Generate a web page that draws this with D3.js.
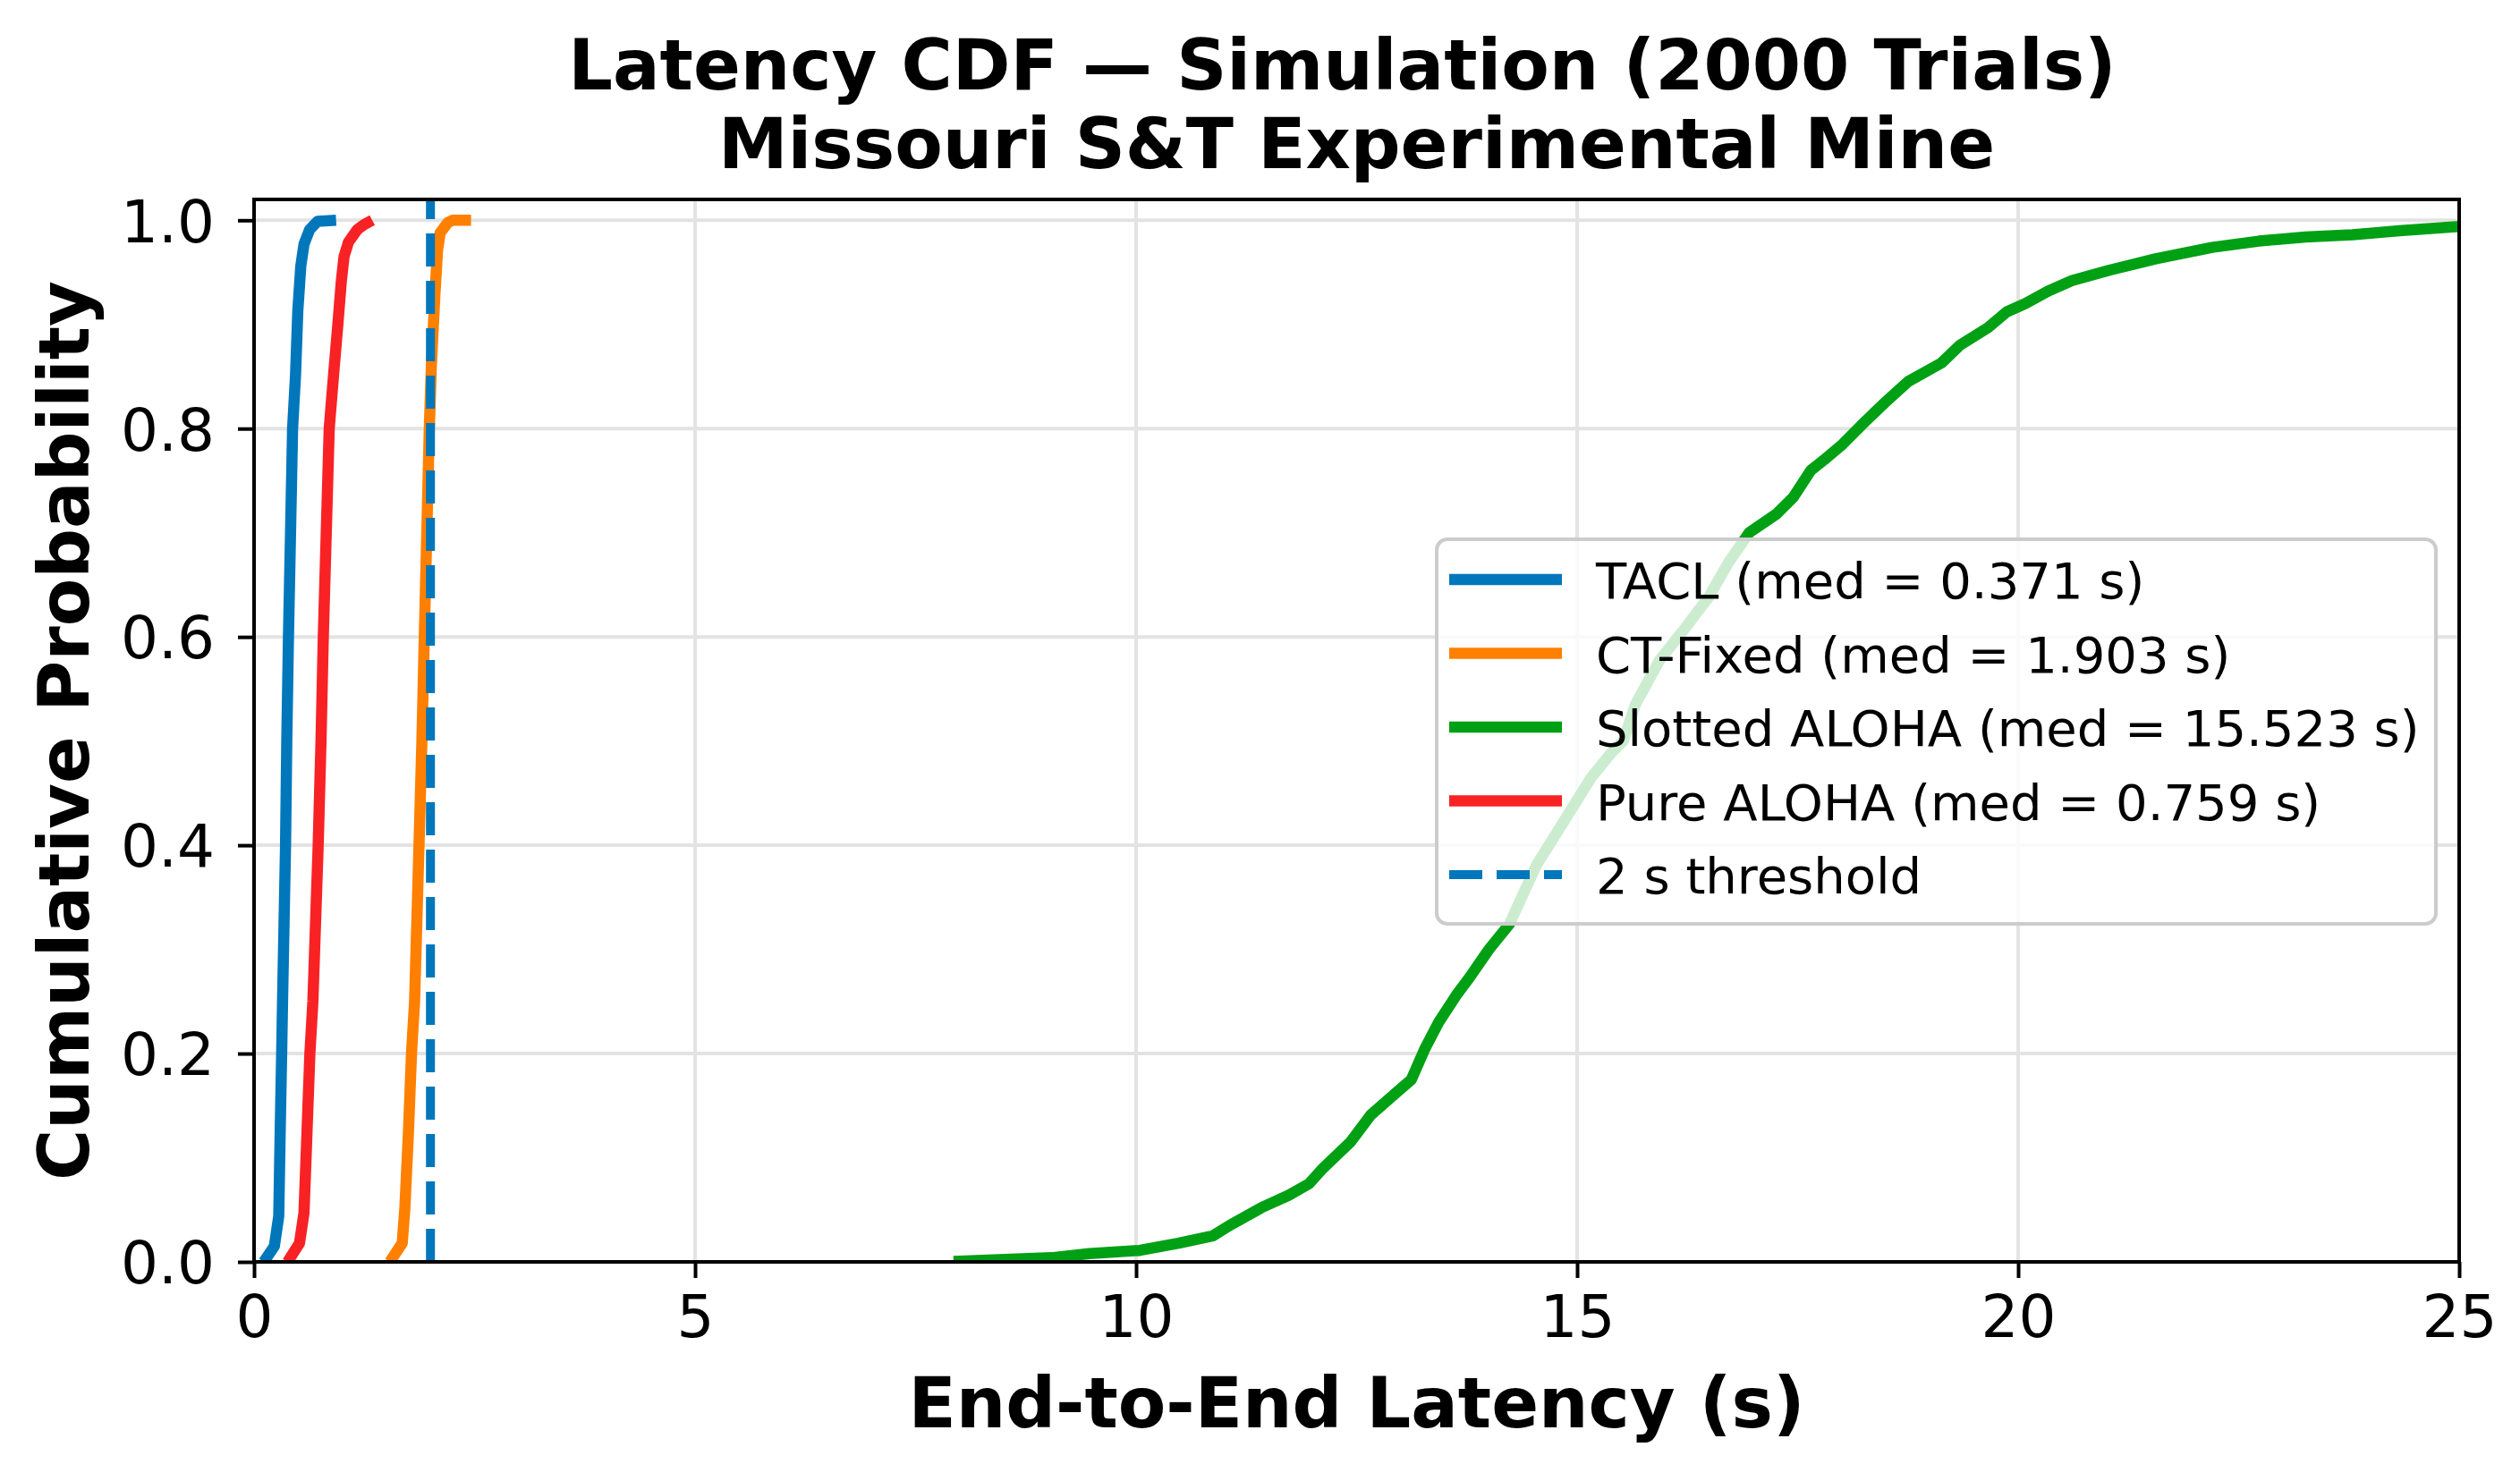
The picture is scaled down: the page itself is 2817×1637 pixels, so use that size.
<!DOCTYPE html>
<html>
<head>
<meta charset="utf-8">
<script src="https://cdn.jsdelivr.net/npm/d3@7/dist/d3.min.js"></script>
<style>
  html, body { margin: 0; padding: 0; background: #fff; }
  svg { display: block; font-family: "DejaVu Sans", sans-serif; }
</style>
</head>
<body>
<svg id="chart" width="2817" height="1637"></svg>
<script>
// ---------------- data ----------------
const titleLines = ["Latency CDF \u2014 Simulation (2000 Trials)", "Missouri S&T Experimental Mine"];
const xLabel = "End-to-End Latency (s)";
const yLabel = "Cumulative Probability";
const xTicks = [0, 5, 10, 15, 20, 25];
const yTicks = [0.0, 0.2, 0.4, 0.6, 0.8, 1.0];
const thresholdSeconds = 2;

const seriesNames = ["TACL", "CT-Fixed", "Slotted ALOHA", "Pure ALOHA"];
const seriesMedians = [0.371, 1.903, 15.523, 0.759];
const seriesColors = ["#0077bb", "#ff8000", "#00a015", "#f82225"];

const taclLatency = [0.11, 0.23, 0.28, 0.296, 0.313, 0.323, 0.357, 0.371, 0.39, 0.437, 0.47, 0.496, 0.53, 0.566, 0.63, 0.72, 0.93];
const taclCdf     = [0.0, 0.015, 0.044, 0.124, 0.2, 0.25, 0.4, 0.5, 0.6, 0.8, 0.851, 0.913, 0.956, 0.977, 0.991, 0.999, 1.0];

const ctLatency = [1.54, 1.68, 1.71, 1.75, 1.785, 1.82, 1.87, 1.903, 1.93, 1.987, 2.01, 2.05, 2.08, 2.11, 2.2, 2.25, 2.46];
const ctCdf     = [0.0, 0.018, 0.052, 0.124, 0.2, 0.25, 0.4, 0.5, 0.6, 0.8, 0.86, 0.928, 0.971, 0.988, 0.998, 1.0, 1.0];

const slottedLatency = [7.93, 9.04, 9.47, 10.04, 10.48, 10.87, 11.06, 11.42, 11.73, 11.96, 12.12, 12.43, 12.66, 12.97, 13.12, 13.27, 13.43, 13.63, 13.78, 14.0, 14.23, 14.54, 14.85, 15.16, 15.39, 15.523, 15.66, 15.93, 16.21, 16.49, 16.72, 16.95, 17.26, 17.45, 17.65, 17.80, 18.01, 18.28, 18.49, 18.75, 19.13, 19.34, 19.66, 19.87, 20.08, 20.34, 20.61, 21.03, 21.56, 22.2, 22.73, 23.26, 23.79, 24.32, 25.0, 25.6];
const slottedCdf     = [0.0005, 0.004, 0.008, 0.011, 0.018, 0.025, 0.035, 0.052, 0.064, 0.075, 0.09, 0.115, 0.141, 0.164, 0.175, 0.204, 0.23, 0.256, 0.273, 0.30, 0.324, 0.381, 0.423, 0.465, 0.489, 0.5, 0.535, 0.577, 0.607, 0.638, 0.672, 0.70, 0.718, 0.734, 0.76, 0.77, 0.785, 0.808, 0.825, 0.845, 0.863, 0.880, 0.897, 0.912, 0.920, 0.932, 0.942, 0.952, 0.963, 0.974, 0.980, 0.984, 0.986, 0.990, 0.994, 0.996];

const pureLatency = [0.38, 0.515, 0.566, 0.60, 0.633, 0.667, 0.727, 0.759, 0.785, 0.852, 0.90, 0.95, 0.99, 1.02, 1.07, 1.17, 1.25, 1.34];
const pureCdf     = [0.0, 0.018, 0.047, 0.124, 0.2, 0.25, 0.4, 0.5, 0.6, 0.8, 0.85, 0.90, 0.942, 0.965, 0.979, 0.991, 0.996, 1.0];

const seriesLatency = [taclLatency, ctLatency, slottedLatency, pureLatency];
const seriesCdf = [taclCdf, ctCdf, slottedCdf, pureCdf];

// ---------------- layout ----------------
const svg = d3.select("#chart");
const plot = { left: 284, right: 2749, top: 223, bottom: 1411 };

const x = d3.scaleLinear().domain([0, 25]).range([plot.left, plot.right]);
const y = d3.scaleLinear().domain([0, 1.02]).range([plot.bottom, plot.top]);

const gridColor = "#e3e3e3";

// grid
const grid = svg.append("g");
grid.selectAll("line.gx").data(xTicks).join("line")
  .attr("x1", d => x(d)).attr("x2", d => x(d))
  .attr("y1", plot.top).attr("y2", plot.bottom)
  .attr("stroke", gridColor).attr("stroke-width", 4);
grid.selectAll("line.gy").data(yTicks).join("line")
  .attr("y1", d => y(d)).attr("y2", d => y(d))
  .attr("x1", plot.left).attr("x2", plot.right)
  .attr("stroke", gridColor).attr("stroke-width", 4);

// clip
svg.append("defs").append("clipPath").attr("id", "clip")
  .append("rect").attr("x", plot.left).attr("y", plot.top)
  .attr("width", plot.right - plot.left).attr("height", plot.bottom - plot.top);

const lineGen = d3.line().x(d => x(d[0])).y(d => y(d[1]));
const linesG = svg.append("g").attr("clip-path", "url(#clip)");

seriesNames.forEach((name, i) => {
  const pts = seriesLatency[i].map((v, j) => [v, seriesCdf[i][j]]);
  linesG.append("path")
    .attr("d", lineGen(pts))
    .attr("fill", "none")
    .attr("stroke", seriesColors[i])
    .attr("stroke-width", 12.5)
    .attr("stroke-linejoin", "round")
    .attr("stroke-linecap", "butt");
});

// threshold
linesG.append("line")
  .attr("x1", x(thresholdSeconds)).attr("x2", x(thresholdSeconds))
  .attr("y1", plot.bottom).attr("y2", plot.top)
  .attr("stroke", seriesColors[0]).attr("stroke-width", 10)
  .attr("stroke-dasharray", "37,16");

// axes
const xAxis = d3.axisBottom(x).tickValues(xTicks).tickFormat(d3.format("d")).tickSize(18).tickPadding(16);
const yAxis = d3.axisLeft(y).tickValues(yTicks).tickFormat(d3.format(".1f")).tickSize(18).tickPadding(26);

const gx = svg.append("g").attr("transform", `translate(0,${plot.bottom})`).call(xAxis);
const gy = svg.append("g").attr("transform", `translate(${plot.left},0)`).call(yAxis);
[gx, gy].forEach(g => {
  g.select(".domain").remove();
  g.selectAll(".tick line").attr("stroke", "#000").attr("stroke-width", 4);
  g.selectAll(".tick text").attr("fill", "#000").attr("font-size", 66)
    .attr("font-family", "DejaVu Sans");
});
gy.selectAll(".tick text").attr("dy", "0.36em");
gx.selectAll(".tick text").attr("dy", "0.76em");

// spines
svg.append("rect")
  .attr("x", plot.left).attr("y", plot.top)
  .attr("width", plot.right - plot.left).attr("height", plot.bottom - plot.top)
  .attr("fill", "none").attr("stroke", "#000").attr("stroke-width", 4);

// title
const cx = (plot.left + plot.right) / 2;
svg.append("text").attr("x", cx - 16).attr("y", 100).attr("text-anchor", "middle")
  .attr("font-size", 78).attr("font-weight", "bold").text(titleLines[0]);
svg.append("text").attr("x", cx).attr("y", 188).attr("text-anchor", "middle")
  .attr("font-size", 78).attr("font-weight", "bold").text(titleLines[1]);

// axis labels
svg.append("text").attr("x", cx).attr("y", 1596).attr("text-anchor", "middle")
  .attr("font-size", 78).attr("font-weight", "bold").text(xLabel);
svg.append("text")
  .attr("transform", `translate(99,${(plot.top + plot.bottom) / 2}) rotate(-90)`)
  .attr("text-anchor", "middle")
  .attr("font-size", 78).attr("font-weight", "bold").text(yLabel);

// legend
const legend = svg.append("g");
legend.append("rect")
  .attr("x", 1606).attr("y", 603).attr("width", 2723 - 1606).attr("height", 1033 - 603)
  .attr("rx", 12).attr("ry", 12)
  .attr("fill", "#fff").attr("fill-opacity", 0.8)
  .attr("stroke", "#cccccc").attr("stroke-width", 4);

const legendItems = seriesNames.map((n, i) => ({
  label: `${n} (med = ${seriesMedians[i].toFixed(3)} s)`, color: seriesColors[i], dash: null, width: 12.5
})).concat([{ label: `${thresholdSeconds} s threshold`, color: seriesColors[0], dash: "37,16", width: 10 }]);

const legendY = d3.scaleLinear().domain([0, 4]).range([648, 978]);
legendItems.forEach((it, i) => {
  const yy = legendY(i);
  legend.append("line")
    .attr("x1", 1620).attr("x2", 1746).attr("y1", yy).attr("y2", yy)
    .attr("stroke", it.color).attr("stroke-width", it.width)
    .attr("stroke-dasharray", it.dash);
  legend.append("text")
    .attr("x", 1784).attr("y", yy + 21)
    .attr("font-size", 56).text(it.label);
});
</script>
</body>
</html>
